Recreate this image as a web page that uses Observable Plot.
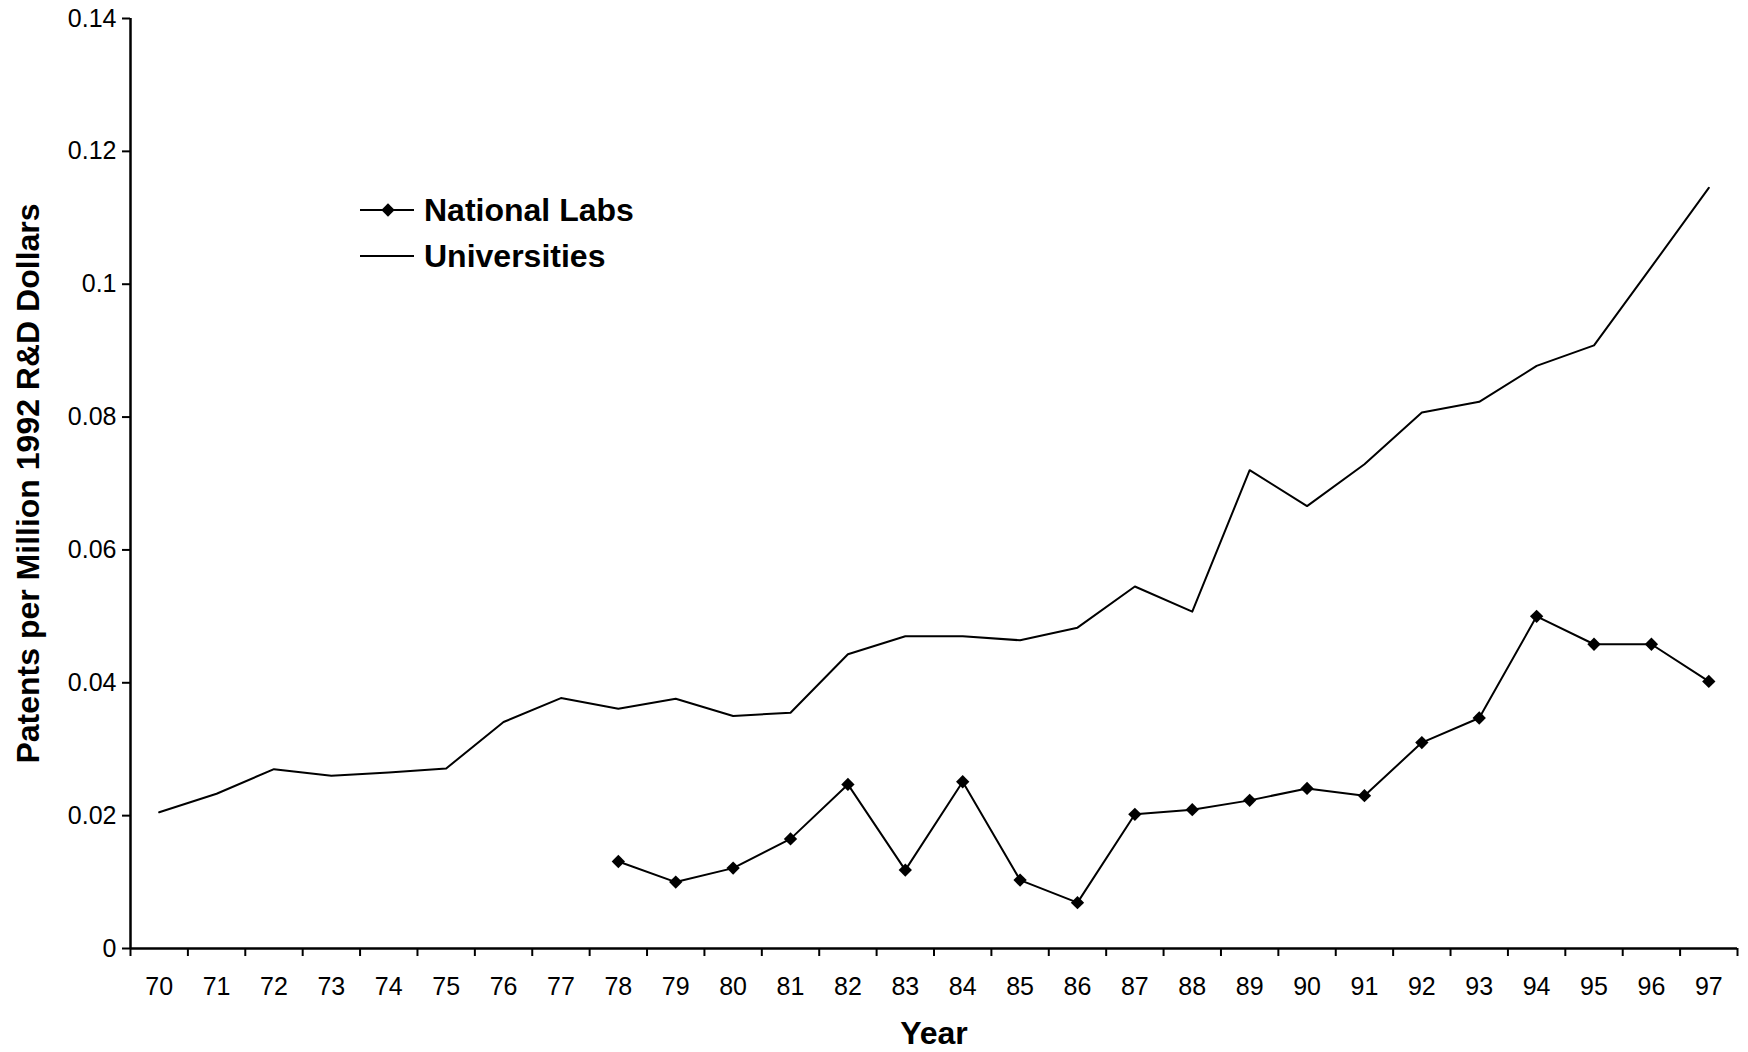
<!DOCTYPE html>
<html><head><meta charset="utf-8">
<script src="https://cdn.jsdelivr.net/npm/d3@7"></script>
<script src="https://cdn.jsdelivr.net/npm/@observablehq/plot@0.6"></script>
<style>
body{margin:0;background:#fff;}
#wrap{position:relative;width:1748px;height:1052px;background:#fff;font-family:"Liberation Sans",Arial,sans-serif;}
#legend{position:absolute;left:0;top:0;pointer-events:none;}
</style></head><body><div id="wrap"></div>
<script>
const years = [70,71,72,73,74,75,76,77,78,79,80,81,82,83,84,85,86,87,88,89,90,91,92,93,94,95,96,97];
const universities = [0.0205,0.0233,0.0270,0.0260,0.0265,0.0271,0.0341,0.0377,0.0361,0.0376,0.0350,0.0355,0.0443,0.0470,0.0470,0.0464,0.0483,0.0545,0.0507,0.0720,0.0666,0.0729,0.0807,0.0823,0.0877,0.0908,0.1026,0.1145];
const labYears = [78,79,80,81,82,83,84,85,86,87,88,89,90,91,92,93,94,95,96,97];
const nationalLabs = [0.0131,0.0100,0.0121,0.0165,0.0247,0.0118,0.0251,0.0103,0.0069,0.0202,0.0209,0.0223,0.0241,0.0230,0.0310,0.0347,0.0500,0.0458,0.0458,0.0402];
const yTicks = [0,0.02,0.04,0.06,0.08,0.1,0.12,0.14];
const seriesNames = ["National Labs","Universities"];
const xTitle = "Year";
const yTitle = "Patents per Million 1992 R&D Dollars";

const uniData = years.map((y,i)=>({year:y, value:universities[i]}));
const labData = labYears.map((y,i)=>({year:y, value:nationalLabs[i]}));
const edges = [...years.map(y=>y-0.5), years[years.length-1]+0.5];
const font = "'Liberation Sans', Arial, sans-serif";

const chart = Plot.plot({
  width:1748, height:1052,
  marginLeft:130, marginRight:11, marginTop:18, marginBottom:104,
  style:{fontFamily:font, fontSize:"25px", color:"#000", background:"#fff", overflow:"visible"},
  x:{domain:[edges[0], edges[edges.length-1]]},
  y:{domain:[0,0.14]},
  marks:[
    Plot.axisY({ticks:yTicks, tickSize:8, tickPadding:6, tickFormat:d=>String(d), label:null, strokeWidth:2, fontSize:25}),
    Plot.axisX({ticks:edges, tickSize:8, tickFormat:()=>"", label:null, strokeWidth:2}),
    Plot.axisX({ticks:years, tickSize:0, tickPadding:29, tickFormat:d=>String(d), label:null, fontSize:25}),
    Plot.ruleX([edges[0]], {strokeWidth:2.5}),
    Plot.ruleY([0], {strokeWidth:2.5}),
    Plot.line(uniData, {x:"year", y:"value", stroke:"#000", strokeWidth:2}),
    Plot.line(labData, {x:"year", y:"value", stroke:"#000", strokeWidth:2}),
    Plot.dot(labData, {x:"year", y:"value", symbol:"diamond2", r:6, fill:"#000", stroke:"none"}),
    Plot.text([xTitle], {text:d=>d, frameAnchor:"bottom", dy:95, fontWeight:"bold", fontSize:32, fontFamily:font}),
    Plot.text([yTitle], {text:d=>d, frameAnchor:"left", textAnchor:"middle", dx:-102, rotate:-90, fontWeight:"bold", fontSize:32, fontFamily:font})
  ]
});
const wrap = document.getElementById("wrap");
wrap.appendChild(chart);

// legend overlay
const ns = "http://www.w3.org/2000/svg";
const leg = document.createElementNS(ns, "svg");
leg.setAttribute("id","legend");
leg.setAttribute("width", 1748);
leg.setAttribute("height", 1052);
seriesNames.forEach((name, i) => {
  const cy = 210 + i*46;
  const ln = document.createElementNS(ns, "line");
  ln.setAttribute("x1", 360); ln.setAttribute("x2", 414);
  ln.setAttribute("y1", cy); ln.setAttribute("y2", cy);
  ln.setAttribute("stroke", "#000"); ln.setAttribute("stroke-width", 2);
  leg.appendChild(ln);
  if (i === 0) {
    const d = document.createElementNS(ns, "path");
    d.setAttribute("d", d3.symbol(d3.symbolDiamond2, Math.PI*36)());
    d.setAttribute("transform", `translate(388,${cy})`);
    d.setAttribute("fill", "#000");
    leg.appendChild(d);
  }
  const t = document.createElementNS(ns, "text");
  t.setAttribute("x", 424); t.setAttribute("y", cy);
  t.setAttribute("dy", "0.35em");
  t.setAttribute("font-family", font);
  t.setAttribute("font-weight", "bold");
  t.setAttribute("font-size", 32);
  t.textContent = name;
  leg.appendChild(t);
});
wrap.appendChild(leg);
</script>
</body></html>
